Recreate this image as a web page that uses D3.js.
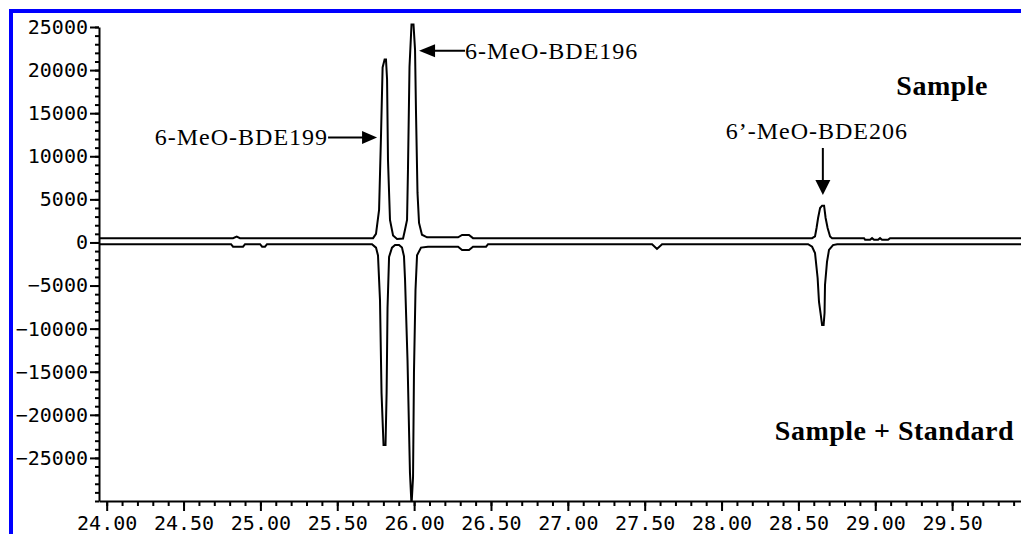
<!DOCTYPE html>
<html>
  <head>
    <meta charset="utf-8" />
    <style>
      body {
        margin: 0;
        background: #fff;
      }
      svg {
        display: block;
      }
      .axis text {
        font-family: "DejaVu Sans Mono", monospace;
        font-size: 20px;
        fill: #000;
      }
      .axis path,
      .axis line {
        stroke: #000;
        stroke-width: 2px;
      }
      .trace {
        fill: none;
        stroke: #000;
        stroke-width: 2px;
      }
      .peak-label {
        font-family: "Liberation Serif", "Times New Roman", serif;
        font-size: 24px;
        letter-spacing: 1px;
      }
      .trace-label {
        font-family: "Liberation Serif", "Times New Roman", serif;
        font-weight: bold;
        font-size: 28px;
        letter-spacing: 0.5px;
      }
    </style>
  </head>
  <body>
    <svg width="1021" height="534"></svg>

    <script src="https://cdn.jsdelivr.net/npm/d3@7"></script>
    <script>
      // [retention time (min), abundance]
      let sampleTrace = [
        [23.95, 500], [24.822, 500], [24.846, 670], [24.867, 500],
        [25.733, 500], [25.752, 1000], [25.772, 3770], [25.785, 12710],
        [25.795, 20300], [25.808, 21230], [25.817, 21230], [25.824, 18910],
        [25.83, 9580], [25.843, 2610], [25.863, 800], [25.889, 400],
        [25.928, 450], [25.941, 1500], [25.954, 2610], [25.96, 8420],
        [25.97, 20380], [25.983, 25300], [25.996, 25300], [26.006, 22350],
        [26.012, 15380], [26.022, 5750], [26.032, 2260], [26.051, 900],
        [26.084, 600], [26.286, 600], [26.312, 870], [26.357, 870],
        [26.383, 500], [28.589, 500], [28.608, 700], [28.618, 1680],
        [28.628, 2840], [28.641, 4000], [28.654, 4270], [28.667, 4270],
        [28.677, 2840], [28.69, 1680], [28.706, 700], [28.719, 500],
        [28.927, 500], [28.934, 300], [28.966, 300], [28.979, 500],
        [28.992, 300], [29.018, 300], [29.031, 500], [29.044, 300],
        [29.083, 300], [29.096, 500], [29.949, 500],
      ];

      // sample + standard, plotted inverted
      let spikedTrace = [
        [23.95, -200], [24.809, -200], [24.822, -490], [24.887, -490],
        [24.9, -200], [24.998, -200], [25.011, -490], [25.03, -490],
        [25.043, -200], [25.726, -200], [25.752, -600], [25.765, -1500],
        [25.778, -6680], [25.788, -17470], [25.801, -23510], [25.814, -23510],
        [25.821, -17470], [25.827, -7600], [25.837, -1680], [25.856, -600],
        [25.876, -300], [25.902, -300], [25.921, -600], [25.934, -1600],
        [25.941, -4350], [25.957, -13640], [25.973, -26760], [25.983, -30500],
        [25.993, -27230], [25.999, -15150], [26.009, -5510], [26.019, -1500],
        [26.045, -600], [26.09, -490], [26.286, -490], [26.312, -870],
        [26.357, -870], [26.383, -490], [26.468, -490], [26.481, -200],
        [27.548, -200], [27.58, -750], [27.613, -200], [28.563, -200],
        [28.589, -500], [28.608, -1220], [28.625, -4120], [28.634, -6910],
        [28.644, -8190], [28.654, -9580], [28.664, -9580], [28.67, -8190],
        [28.673, -4930], [28.686, -2260], [28.699, -870], [28.725, -300],
        [28.752, -200], [29.949, -200],
      ];

      let yTicks = [25000, 20000, 15000, 10000, 5000, 0, -5000, -10000, -15000, -20000, -25000];
      let yTickLabels = ["25000", "20000", "15000", "10000", "5000", "0",
        "\u22125000", "\u221210000", "\u221215000", "\u221220000", "\u221225000"];
      let xTicks = [24, 24.5, 25, 25.5, 26, 26.5, 27, 27.5, 28, 28.5, 29, 29.5];
      let xTickLabels = ["24.00", "24.50", "25.00", "25.50", "26.00", "26.50",
        "27.00", "27.50", "28.00", "28.50", "29.00", "29.50"];

      // peak annotations: name, time and abundance the arrow points at
      let peakNames = ["6-MeO-BDE199", "6-MeO-BDE196", "6\u2019-MeO-BDE206"];
      let peakTimes = [25.759, 26.032, 28.659];
      let peakValues = [12190, 22230, 5510];

      let traceNames = ["Sample", "Sample + Standard"];

      let svg = d3.select("svg");

      // blue frame (only top and left edges are visible)
      svg.append("rect")
        .attr("x", 11).attr("y", 11)
        .attr("width", 1200).attr("height", 700)
        .attr("fill", "none")
        .attr("stroke", "#0000ff")
        .attr("stroke-width", 4);

      let x = d3.scaleLinear().domain([23.95, 29.95]).range([99, 1021.3]);
      let y = d3.scaleLinear().domain([-30000, 25000]).range([501, 27]);

      // minor ticks
      let xMinor = d3.range(240, 300, 1).map((d) => d / 10);
      let yMinor = d3.range(-30, 26, 1).map((d) => d * 1000);

      svg.append("g")
        .attr("class", "axis")
        .attr("transform", "translate(0,501)")
        .call(d3.axisBottom(x).tickValues(xMinor).tickSize(5).tickFormat(""))
        .select(".domain").remove();

      svg.append("g")
        .attr("class", "axis")
        .attr("transform", "translate(99,0)")
        .call(d3.axisLeft(y).tickValues(yMinor).tickSize(4).tickFormat(""))
        .select(".domain").remove();

      // major ticks + labels
      svg.append("g")
        .attr("class", "axis")
        .attr("transform", "translate(0,501)")
        .call(
          d3.axisBottom(x)
            .tickValues(xTicks)
            .tickFormat((d, i) => xTickLabels[i])
            .tickSize(10)
            .tickSizeOuter(0)
            .tickPadding(5)
        );

      svg.append("g")
        .attr("class", "axis")
        .attr("transform", "translate(99,0)")
        .call(
          d3.axisLeft(y)
            .tickValues(yTicks)
            .tickFormat((d, i) => yTickLabels[i])
            .tickSize(9)
            .tickSizeOuter(0)
            .tickPadding(2)
        );

      svg.append("clipPath")
        .attr("id", "plot-clip")
        .append("rect")
        .attr("x", 100).attr("y", 15)
        .attr("width", 930).attr("height", 486);

      let line = d3.line()
        .x((d) => x(d[0]))
        .y((d) => y(d[1]));

      svg.append("g")
        .attr("clip-path", "url(#plot-clip)")
        .selectAll(".trace")
        .data([sampleTrace, spikedTrace])
        .join("path")
        .attr("class", "trace")
        .attr("d", line);

      // peak labels with arrows
      let notes = svg.append("g");
      peakNames.forEach((name, i) => {
        let px = x(peakTimes[i]);
        let py = y(peakValues[i]);
        let g = notes.append("g");
        if (i == 0) {
          g.append("line").attr("x1", px - 49).attr("x2", px - 12).attr("y1", py).attr("y2", py);
          g.append("polygon").attr("points", `${px},${py} ${px - 15},${py - 6.5} ${px - 15},${py + 6.5}`);
          g.append("text").attr("class", "peak-label").attr("x", px - 49).attr("y", py + 8)
            .attr("text-anchor", "end").text(name);
        } else if (i == 1) {
          g.append("line").attr("x1", px + 12).attr("x2", px + 46).attr("y1", py).attr("y2", py);
          g.append("polygon").attr("points", `${px},${py} ${px + 16},${py - 6.5} ${px + 16},${py + 6.5}`);
          g.append("text").attr("class", "peak-label").attr("x", px + 46).attr("y", py + 8)
            .text(name);
        } else {
          g.append("line").attr("x1", px).attr("x2", px).attr("y1", py - 47).attr("y2", py - 12);
          g.append("polygon").attr("points", `${px},${py} ${px - 7.5},${py - 15} ${px + 7.5},${py - 15}`);
          g.append("text").attr("class", "peak-label").attr("x", px - 6).attr("y", py - 56)
            .attr("text-anchor", "middle").text(name);
        }
        g.selectAll("line").attr("stroke", "#000").attr("stroke-width", 2);
        g.selectAll("polygon").attr("fill", "#000");
      });

      // trace names
      svg.append("g")
        .selectAll("text")
        .data(traceNames)
        .join("text")
        .attr("class", "trace-label")
        .attr("text-anchor", "end")
        .attr("x", (d, i) => (i == 0 ? 988 : 1014))
        .attr("y", (d, i) => (i == 0 ? 95 : 440))
        .text((d) => d);
    </script>
  </body>
</html>
